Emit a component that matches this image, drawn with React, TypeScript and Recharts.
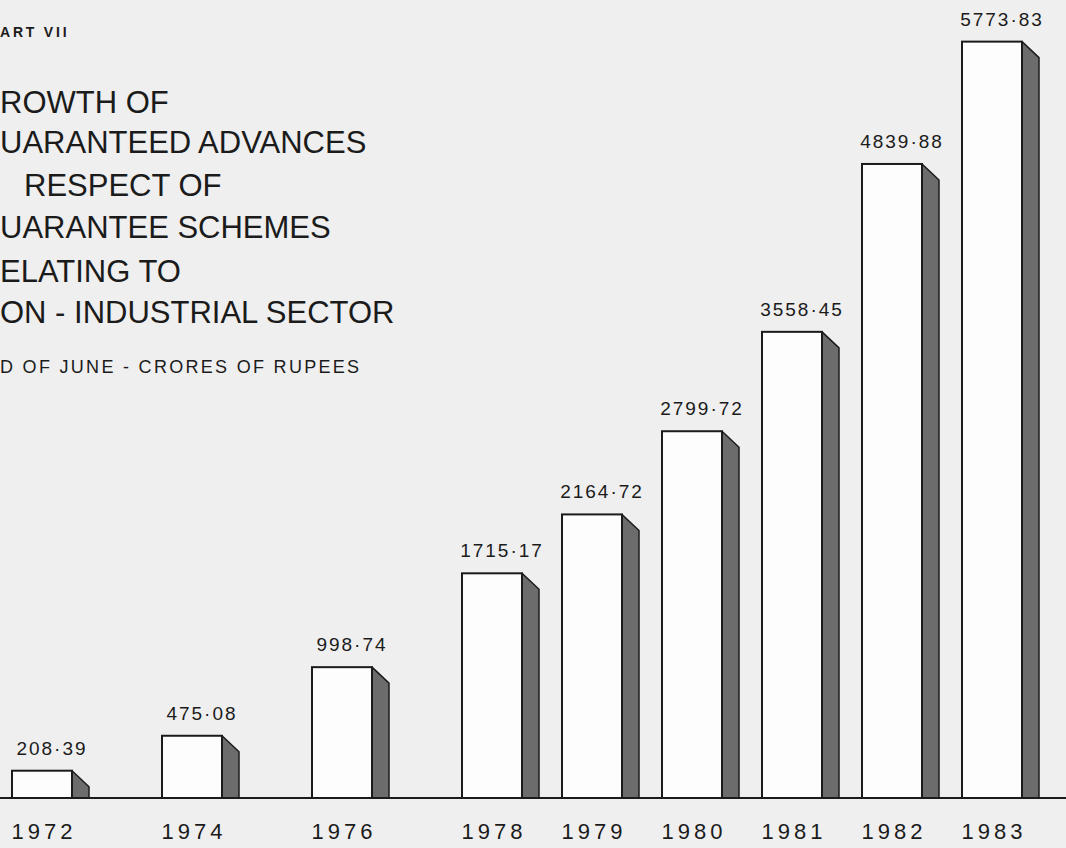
import React from 'react';
import { BarChart, Bar, XAxis, YAxis, LabelList } from 'recharts';

const years = ['1972', '1974', '1976', '1978', '1979', '1980', '1981', '1982', '1983'];
const values = [208.39, 475.08, 998.74, 1715.17, 2164.72, 2799.72, 3558.45, 4839.88, 5773.83];
// empty (unlabelled) category slots preceding each year on the drawn axis
const emptySlotsBefore = [0, 2, 2, 2, 1, 1, 1, 1, 1];

const titleLines = [
  'ROWTH OF',
  'UARANTEED ADVANCES',
  ' RESPECT OF',
  'UARANTEE SCHEMES',
  'ELATING TO',
  'ON - INDUSTRIAL SECTOR',
];
const chartTag = 'ART VII';
const subtitle = 'D OF JUNE - CRORES OF RUPEES';

type Row = { label: string; value: number | null };
const table: Row[] = [];
years.forEach((y, i) => {
  for (let k = 0; k < emptySlotsBefore[i]; k++) table.push({ label: '', value: null });
  table.push({ label: y, value: values[i] });
});

const INK = '#1b1b1b';
const FONT = '"Liberation Sans", Arial, sans-serif';
const FRONT_HALF = 30;
const SIDE_DX = 17;
const SIDE_DY = 16;

const Bar3D = (props: any) => {
  const { x, y, width, height, payload } = props;
  if (!payload || payload.value == null || !(height > 0)) return null;
  const cx = x + width / 2;
  const left = cx - FRONT_HALF;
  const right = cx + FRONT_HALF;
  const base = y + height;
  const side = `M${right},${y} L${right + SIDE_DX},${y + SIDE_DY} L${right + SIDE_DX},${base} L${right},${base} Z`;
  return (
    <g>
      <path d={side} fill="#6c6c6c" stroke={INK} strokeWidth={1.5} strokeLinejoin="round" />
      <rect x={left} y={y} width={FRONT_HALF * 2} height={height} fill="#fdfdfd" stroke={INK} strokeWidth={2} />
    </g>
  );
};

const ValueLabel = (props: any) => {
  const { x, y, width, value } = props;
  if (value == null) return null;
  const cx = x + width / 2 + 10;
  return (
    <text x={cx} y={y - 16} textAnchor="middle" fill={INK} fontFamily={FONT} fontSize={19} letterSpacing={2}>
      {Number(value).toFixed(2).replace('.', '·')}
    </text>
  );
};

const YearTick = (props: any) => {
  const { x, y, payload } = props;
  if (!payload || !payload.value) return null;
  return (
    <text x={x + 2} y={y + 39} textAnchor="middle" fill={INK} fontFamily={FONT} fontSize={22} letterSpacing={4}>
      {payload.value}
    </text>
  );
};

const titleBaselines = [113, 153, 196, 238, 282, 323];

export default function App() {
  return (
    <div style={{ position: 'absolute', left: 0, top: 0, width: 1066, height: 848, background: '#efefef', overflow: 'hidden' }}>
      <BarChart width={1066} height={848} data={table} margin={{ top: 12, right: 0, bottom: 0, left: 0 }} barCategoryGap={0}>
        <XAxis
          dataKey="label"
          type="category"
          interval={0}
          height={50}
          padding={{ left: 17, right: 49 }}
          tickLine={false}
          tickSize={0}
          axisLine={{ stroke: INK, strokeWidth: 2 }}
          tick={<YearTick />}
        />
        <YAxis hide domain={[0, 6000]} type="number" />
        <Bar dataKey="value" shape={<Bar3D />} isAnimationActive={false}>
          <LabelList dataKey="value" content={<ValueLabel />} />
        </Bar>
      </BarChart>
      <svg width={1066} height={400} style={{ position: 'absolute', left: 0, top: 0, pointerEvents: 'none' }}>
        <text x={0} y={37} fill={INK} fontFamily={FONT} fontWeight="bold" fontSize={14} letterSpacing={2.8}>
          {chartTag}
        </text>
        {titleLines.map((t, i) => (
          <text key={i} x={t.startsWith(' ') ? 24 : 0} y={titleBaselines[i]} fill={INK} fontFamily={FONT} fontSize={31}>
            {t.trim()}
          </text>
        ))}
        <text x={0} y={373} fill={INK} fontFamily={FONT} fontSize={18} letterSpacing={2.3}>
          {subtitle}
        </text>
      </svg>
    </div>
  );
}
